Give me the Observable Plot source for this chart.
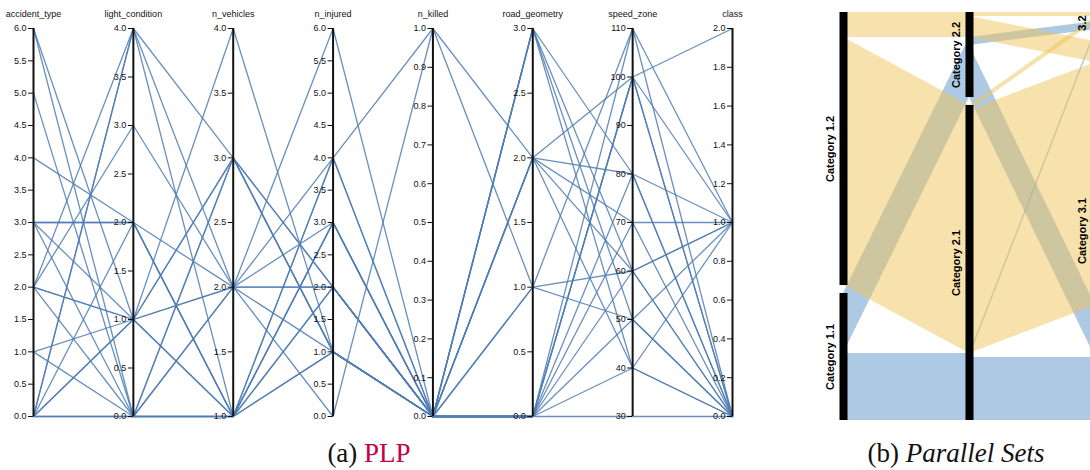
<!DOCTYPE html>
<html><head><meta charset="utf-8">
<script src="https://cdn.jsdelivr.net/npm/d3@7"></script>
<script src="https://cdn.jsdelivr.net/npm/@observablehq/plot@0.6"></script>
<style>
html,body{margin:0;padding:0;background:#fff;overflow:hidden;}
#wrap{position:relative;width:1090px;height:470px;overflow:hidden;font-family:"Liberation Sans",Arial,sans-serif;}
#pcp{position:absolute;left:0;top:0;width:745px;height:430px;}
#psets{position:absolute;left:745px;top:0;width:345px;height:430px;overflow:hidden;}
.cap{position:absolute;top:440px;font-family:"Liberation Serif","Times New Roman",serif;font-size:27px;line-height:27px;white-space:nowrap;transform:translateX(-50%);color:#111;}
</style></head><body>
<div id="wrap"><div id="pcp"></div><div id="psets"></div>
<div class="cap" style="left:369px">(a) <span style="color:#c4004a">PLP</span></div>
<div class="cap" style="left:956px">(b) <i>Parallel Sets</i></div>
</div>
<script>
// ---------- (a) parallel coordinates ----------
const dimNames = ["accident_type","light_condition","n_vehicles","n_injured","n_killed","road_geometry","speed_zone","class"];
const dimMin = [0,0,1,0,0,0,30,0];
const dimMax = [6,4,4,6,1,3,110,2];
const dimTickCount = [12,8,6,12,10,6,8,10];
const dimTickFormat = [".1f",".1f",".1f",".1f",".1f",".1f","d",".1f"];

const accidentType   = [6,6,5,4,3,3,3,2,2,2,2,1,1,0,0,0,0,0,2,0,3,0];
const lightCondition = [1,0,0,2,2,1,0,4,3,1,0,1,0,0,4,4,2,1,1,0,2,1];
const nVehicles      = [4,1,3,1,1,3,3,3,2,3,2,2,1,1,2,1,2,1,1,2,1,2];
const nInjured       = [1,1,2,3,3,1,1,2,4,1,0,2,4,2,6,4,3,1,3,2,2,1];
const nKilled        = [0,0,0,0,0,0,0,0,1,0,1,0,0,0,0,0,0,0,0,0,0,0];
const roadGeometry   = [3,2,1,3,0,2,0,0,2,0,1,2,0,0,3,0,3,0,2,0,1,0];
const speedZone      = [80,80,50,60,110,70,100,100,100,100,60,60,80,30,50,70,40,60,40,50,110,40];
const classValue     = [1,0,0,1,0,1,1,0,2,0,0,0,0,0,1,0,1,1,0,0,1,0];

const columns = [accidentType, lightCondition, nVehicles, nInjured, nKilled, roadGeometry, speedZone, classValue];
const norm = dimNames.map((_, j) => d3.scaleLinear().domain([dimMin[j], dimMax[j]]));
const lineData = [];
accidentType.forEach((_, i) => dimNames.forEach((name, j) => lineData.push({id: i, j, v: norm[j](columns[j][i])})));
const tickData = dimNames.flatMap((name, j) =>
  d3.ticks(dimMin[j], dimMax[j], dimTickCount[j]).map(t => ({j, t: norm[j](t), label: d3.format(dimTickFormat[j])(t)})));

const pcp = Plot.plot({
  width: 745, height: 430, margin: 0,
  x: {type: "linear", domain: [0, 7], range: [33, 732], axis: null},
  y: {domain: [0, 1], range: [416, 28], axis: null},
  style: {fontFamily: "'Liberation Sans', Arial, sans-serif", fontSize: "9px", color: "#111", background: "white", overflow: "visible"},
  marks: [
    Plot.line(lineData, {x: "j", y: "v", z: "id", stroke: "#4f7db4", strokeWidth: 1.3, strokeOpacity: 0.85}),
    Plot.ruleX(dimNames.map((_, j) => j), {y1: 0, y2: 1, stroke: "#111", strokeWidth: 2}),
    Plot.ruleY(tickData, {x1: d => d.j - 0.05, x2: "j", y: "t", stroke: "#111", strokeWidth: 1}),
    Plot.text(tickData, {x: "j", y: "t", text: "label", textAnchor: "end", dx: -7, fill: "#111", fontSize: 9}),
    Plot.text(dimNames, {x: (d, j) => j, y: () => 1, text: d => d, dy: -14, fill: "#111", fontSize: 9})
  ]
});
document.getElementById("pcp").appendChild(pcp);

// ---------- (b) parallel sets ----------
const cat1Order = ["Category 1.2", "Category 1.1"];
const cat2Order = ["Category 2.2", "Category 2.1"];
const cat3Order = ["Category 3.2", "Category 3.1"];
const shownLabels = [["Category 1.2", "Category 1.1"], ["Category 2.2", "Category 2.1"], ["3.2", "Category 3.1"]];
const comboCat1 = ["Category 1.2","Category 1.2","Category 1.1","Category 1.1","Category 1.2","Category 1.2","Category 1.1","Category 1.1"];
const comboCat2 = ["Category 2.2","Category 2.2","Category 2.2","Category 2.2","Category 2.1","Category 2.1","Category 2.1","Category 2.1"];
const comboCat3 = ["Category 3.2","Category 3.1","Category 3.2","Category 3.1","Category 3.2","Category 3.1","Category 3.2","Category 3.1"];
const comboCount = [4, 21, 8, 52, 5, 243, 4, 63];

const gap = 8;
const orders = [cat1Order, cat2Order, cat3Order];
const combos = comboCount.map((n, i) => ({c: [comboCat1[i], comboCat2[i], comboCat3[i]], n}));
const bars = [];
const catStart = orders.map((order, k) => {
  let y = 0; const m = new Map();
  order.forEach((c, ci) => {
    const total = d3.sum(combos.filter(d => d.c[k] === c), d => d.n);
    m.set(c, y);
    bars.push({k, y1: y, y2: y + total, label: shownLabels[k][ci]});
    y += total + gap;
  });
  return m;
});
function stack(ribbons, k, sortKeys) {
  const cursor = new Map(catStart[k]);
  const sorted = ribbons.slice().sort((p, q) => {
    for (const idx of sortKeys) {
      const d = orders[idx].indexOf(p.c[idx]) - orders[idx].indexOf(q.c[idx]);
      if (d) return d;
    }
    return 0;
  });
  for (const r of sorted) {
    const y = cursor.get(r.c[k]);
    r.pos[k] = [y, y + r.n];
    cursor.set(r.c[k], y + r.n);
  }
}
const stage0 = [];
for (const a of cat1Order) for (const b of cat2Order) {
  const n = d3.sum(combos.filter(d => d.c[0] === a && d.c[1] === b), d => d.n);
  if (n) stage0.push({c: [a, b], n, pos: {}});
}
const stage1 = combos.map(d => ({c: d.c, n: d.n, pos: {}}));
stack(stage0, 0, [1]); stack(stage0, 1, [0]);
stack(stage1, 1, [0, 2]); stack(stage1, 2, [0, 1]);
const areaPts = [];
stage0.forEach((r, i) => [0, 1].forEach(k => areaPts.push({id: "a" + i, x: k, y1: r.pos[k][0], y2: r.pos[k][1], blue: r.c[0] === "Category 1.1"})));
stage1.forEach((r, i) => [1, 2].forEach(k => areaPts.push({id: "b" + i, x: k, y1: r.pos[k][0], y2: r.pos[k][1], blue: r.c[0] === "Category 1.1"})));

const psets = Plot.plot({
  width: 345, height: 430, margin: 0,
  x: {type: "linear", domain: [0, 2], range: [98, 350], axis: null},
  y: {domain: [0, 408], range: [12, 420], axis: null},
  style: {fontFamily: "'Liberation Sans', Arial, sans-serif", background: "white"},
  marks: [
    Plot.areaY(areaPts.filter(d => d.blue), {x: "x", y1: "y1", y2: "y2", z: "id", fill: "#5b93c9", fillOpacity: 0.5}),
    Plot.areaY(areaPts.filter(d => !d.blue), {x: "x", y1: "y1", y2: "y2", z: "id", fill: "#f0c35a", fillOpacity: 0.5}),
    Plot.ruleX(bars, {x: "k", y1: "y1", y2: "y2", stroke: "black", strokeWidth: 8}),
    Plot.text(bars, {x: "k", y: d => (d.y1 + d.y2) / 2, text: "label", rotate: -90, dx: -13, fontWeight: "bold", fontSize: 11, fill: "black"})
  ]
});
document.getElementById("psets").appendChild(psets);
</script>
</body></html>
